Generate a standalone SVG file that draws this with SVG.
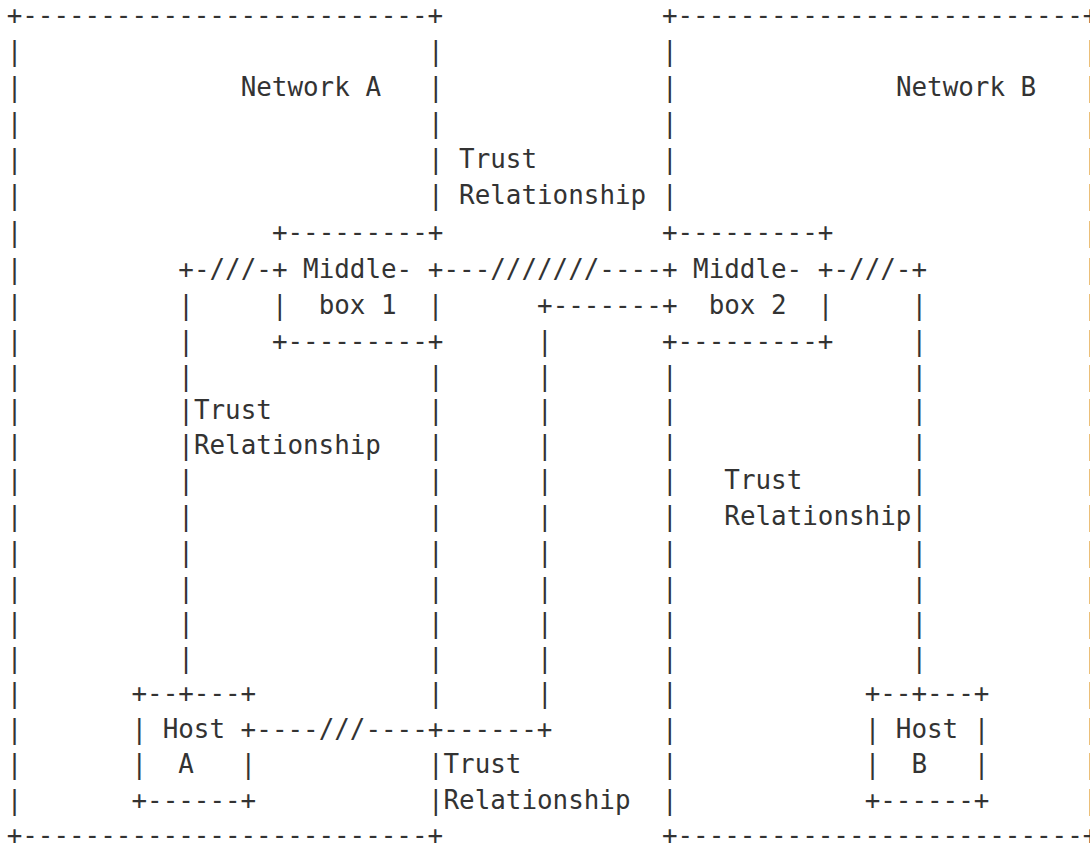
<svg xmlns="http://www.w3.org/2000/svg" width="1090" height="844" viewBox="0 0 1090 844" xml:space="preserve">
  <style>
    text { font-family: "DejaVu Sans Mono", "Liberation Mono", monospace; font-size: 25.9px; fill: #333333; white-space: pre; }
  </style>
  <rect width="1090" height="844" fill="#ffffff"/>

  <!-- Character grid: column c starts at x = 6.7 + 15.6*c; rows are about 35.7px apart -->

  <g id="network-a">
    <text x="6.7" y="24.1">+--------------------------+</text>
    <text x="6.7" y="844.1">+--------------------------+</text>
    <text x="6.7 6.7 6.7 6.7 6.7 6.7 6.7 6.7 6.7 6.7 6.7 6.7 6.7 6.7 6.7 6.7 6.7 6.7 6.7 6.7 6.7 6.7" y="59.7 96.1 132.1 168.1 204.1 241.1 277.6 314.1 350.1 385.1 419.1 453.6 489.1 525.1 561.1 596.6 632.1 667.1 701.6 737.6 773.1 808.6">||||||||||||||||||||||</text>
    <text x="427.9 427.9 427.9 427.9 427.9 427.9 427.9 427.9 427.9 427.9 427.9 427.9 427.9 427.9 427.9 427.9 427.9" y="59.7 96.1 132.1 168.1 204.1 385.1 419.1 453.6 489.1 525.1 561.1 596.6 632.1 667.1 701.6 773.1 808.6">|||||||||||||||||</text>
    <text x="240.7" y="96.1">Network A</text>
  </g>

  <g id="network-b">
    <text x="661.9" y="24.1">+--------------------------+</text>
    <text x="661.9" y="844.1">+--------------------------+</text>
    <text x="661.9 661.9 661.9 661.9 661.9 661.9 661.9 661.9 661.9 661.9 661.9 661.9 661.9 661.9 661.9 661.9 661.9 661.9" y="59.7 96.1 132.1 168.1 204.1 385.1 419.1 453.6 489.1 525.1 561.1 596.6 632.1 667.1 701.6 737.6 773.1 808.6">||||||||||||||||||</text>
    <text x="1083.1 1083.1 1083.1 1083.1 1083.1 1083.1 1083.1 1083.1 1083.1 1083.1 1083.1 1083.1 1083.1 1083.1 1083.1 1083.1 1083.1 1083.1 1083.1 1083.1 1083.1 1083.1" y="59.7 96.1 132.1 168.1 204.1 241.1 277.6 314.1 350.1 385.1 419.1 453.6 489.1 525.1 561.1 596.6 632.1 667.1 701.6 737.6 773.1 808.6">||||||||||||||||||||||</text>
    <text x="895.9" y="96.1">Network B</text>
  </g>

  <g id="middlebox-1">
    <text x="271.9" y="241.1">+---------+</text>
    <text x="271.9" y="277.6">+ Middle- +</text>
    <text x="271.9" y="314.1">|  box 1  |</text>
    <text x="271.9" y="350.1">+---------+</text>
  </g>

  <g id="middlebox-2">
    <text x="661.9" y="241.1">+---------+</text>
    <text x="661.9" y="277.6">+ Middle- +</text>
    <text x="661.9" y="314.1">+  box 2  |</text>
    <text x="661.9" y="350.1">+---------+</text>
  </g>

  <g id="host-a">
    <text x="131.5" y="701.6">+--+---+</text>
    <text x="131.5" y="737.6">| Host +</text>
    <text x="131.5" y="773.1">|  A   |</text>
    <text x="131.5" y="808.6">+------+</text>
  </g>

  <g id="host-b">
    <text x="864.7" y="701.6">+--+---+</text>
    <text x="864.7" y="737.6">| Host |</text>
    <text x="864.7" y="773.1">|  B   |</text>
    <text x="864.7" y="808.6">+------+</text>
  </g>

  <g id="connectors">
    <!-- Middlebox 1 to Host A -->
    <text x="178.3" y="277.6">+-///-</text>
    <text x="178.3 178.3 178.3 178.3 178.3 178.3 178.3 178.3 178.3 178.3 178.3" y="314.1 350.1 385.1 419.1 453.6 489.1 525.1 561.1 596.6 632.1 667.1">|||||||||||</text>
    <text x="193.9" y="419.1">Trust</text>
    <text x="193.9" y="453.6">Relationship</text>

    <!-- Middlebox 1 to Middlebox 2 -->
    <text x="443.5" y="277.6">---///////----</text>
    <text x="459.1" y="168.1">Trust</text>
    <text x="459.1" y="204.1">Relationship</text>

    <!-- Middlebox 2 to Host B -->
    <text x="833.5" y="277.6">-///-+</text>
    <text x="911.5 911.5 911.5 911.5 911.5 911.5 911.5 911.5 911.5 911.5 911.5" y="314.1 350.1 385.1 419.1 453.6 489.1 525.1 561.1 596.6 632.1 667.1">|||||||||||</text>
    <text x="724.3" y="489.1">Trust</text>
    <text x="724.3" y="525.1">Relationship</text>

    <!-- Host A to Middlebox 2 -->
    <text x="256.3" y="737.6">----///----+------+</text>
    <text x="537.1" y="314.1">+-------</text>
    <text x="537.1 537.1 537.1 537.1 537.1 537.1 537.1 537.1 537.1 537.1 537.1" y="350.1 385.1 419.1 453.6 489.1 525.1 561.1 596.6 632.1 667.1 701.6">|||||||||||</text>
    <text x="443.5" y="773.1">Trust</text>
    <text x="443.5" y="808.6">Relationship</text>
  </g>
</svg>
